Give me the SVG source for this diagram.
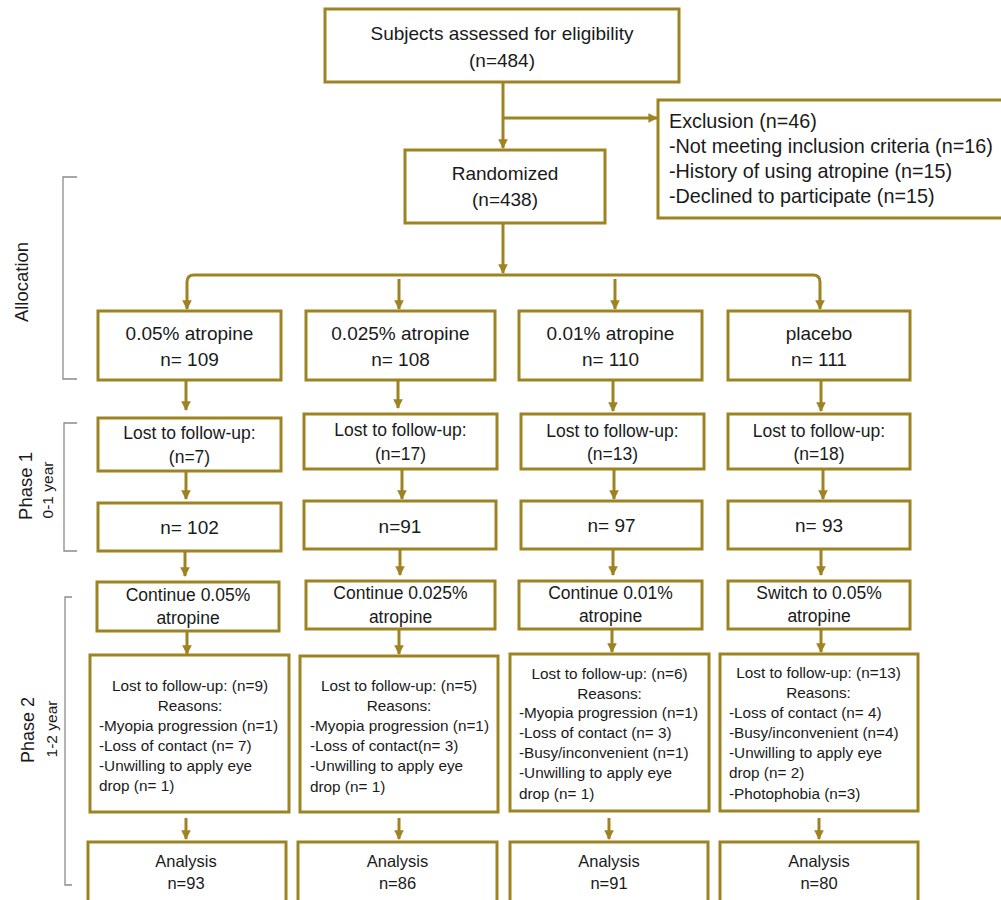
<svg xmlns="http://www.w3.org/2000/svg" width="1001" height="900" viewBox="0 0 1001 900">
<defs>
<style>
.box{fill:#fff;stroke:#9E8323;stroke-width:3}
.ln{fill:none;stroke:#9E8323;stroke-width:3;marker-end:url(#ah)}
.br{fill:none;stroke:#8a8a8a;stroke-width:1.3}
text{font-family:"Liberation Sans",Arial,sans-serif;fill:#1a1a1a;dominant-baseline:central}
.c{text-anchor:middle}
.f19{font-size:19px}
.fx{font-size:19.8px}
.f17{font-size:17.5px}
.f15{font-size:15.3px}
.f16{font-size:16.5px}
</style>
<marker id="ah" viewBox="0 0 10 10" refX="9" refY="5" markerWidth="3.2" markerHeight="3.2" orient="auto" markerUnits="strokeWidth">
<path d="M0,0 L10,5 L0,10 z" fill="#9E8323"/>
</marker>
</defs>
<rect width="1001" height="900" fill="#fff"/>

<g id="brackets">
<path class="br" d="M77,177 H63 V379 H77"/>
<path class="br" d="M77,423 H64 V551 H77"/>
<path class="br" d="M72,597 H65 V885 H72"/>
<text class="c" font-size="18.5" transform="translate(21,282) rotate(-90)">Allocation</text>
<text class="c" font-size="18.5" transform="translate(25,486) rotate(-90)">Phase 1</text>
<text class="c" font-size="15.5" transform="translate(47,490) rotate(-90)">0-1 year</text>
<text class="c" font-size="18" transform="translate(28,730) rotate(-90)">Phase 2</text>
<text class="c" font-size="15.5" transform="translate(51,729) rotate(-90)">1-2 year</text>
</g>

<g id="connectors">
<path class="ln" d="M503,82 V148"/>
<path class="ln" d="M503,118 H657"/>
<path class="ln" d="M503,223 V273"/>
<path class="ln" d="M503,275 H194 Q187,275 187,282 V309"/>
<path class="ln" d="M503,275 H813 Q820,275 820,282 V309"/>
<path class="ln" d="M399,279 V309"/>
<path class="ln" d="M615,279 V309"/>
<path class="ln" d="M186,381 V410"/>
<path class="ln" d="M398,381 V408"/>
<path class="ln" d="M613,381 V411"/>
<path class="ln" d="M821,381 V411"/>
<path class="ln" d="M186,472 V499"/>
<path class="ln" d="M402,470 V499"/>
<path class="ln" d="M614,470 V499"/>
<path class="ln" d="M823,470 V499"/>
<path class="ln" d="M185,552 V576"/>
<path class="ln" d="M400,550 V575"/>
<path class="ln" d="M613,550 V575"/>
<path class="ln" d="M821,550 V575"/>
<path class="ln" d="M187,632 V654"/>
<path class="ln" d="M399,630 V654"/>
<path class="ln" d="M612,630 V652"/>
<path class="ln" d="M821,630 V652"/>
<path class="ln" d="M186,818 V839"/>
<path class="ln" d="M399,818 V839"/>
<path class="ln" d="M609,818 V839"/>
<path class="ln" d="M819,818 V839"/>
</g>

<g id="assessed">
<rect class="box" x="325" y="9" width="354" height="73"/>
<text class="c f19" x="502" y="33">Subjects assessed for eligibility</text>
<text class="c f19" x="502" y="60">(n=484)</text>
</g>
<g id="exclusion">
<rect class="box" x="658" y="100" width="350" height="118"/>
<text class="fx" x="669" y="121">Exclusion (n=46)</text>
<text class="fx" x="669" y="146">-Not meeting inclusion criteria (n=16)</text>
<text class="fx" x="669" y="171">-History of using atropine (n=15)</text>
<text class="fx" x="669" y="196">-Declined to participate (n=15)</text>
</g>
<g id="randomized">
<rect class="box" x="405" y="150" width="200" height="73"/>
<text class="c f19" x="505" y="173">Randomized</text>
<text class="c f19" x="505" y="199">(n=438)</text>
</g>

<g id="alloc1"><rect class="box" x="98" y="311" width="183" height="69"/>
<text class="c f19" x="189.5" y="333">0.05% atropine</text><text class="c f19" x="189.5" y="359">n= 109</text></g>
<g id="alloc2"><rect class="box" x="306" y="311" width="189" height="69"/>
<text class="c f19" x="400.5" y="333">0.025% atropine</text><text class="c f19" x="400.5" y="359">n= 108</text></g>
<g id="alloc3"><rect class="box" x="519" y="311" width="183" height="69"/>
<text class="c f19" x="610.5" y="333">0.01% atropine</text><text class="c f19" x="610.5" y="359">n= 110</text></g>
<g id="alloc4"><rect class="box" x="728" y="311" width="182" height="69"/>
<text class="c f19" x="819" y="333">placebo</text><text class="c f19" x="819" y="359">n= 111</text></g>

<g id="lost1a"><rect class="box" x="98" y="418" width="183" height="53"/>
<text class="c f17" x="189.5" y="433">Lost to follow-up:</text><text class="c f17" x="189.5" y="457">(n=7)</text></g>
<g id="lost2a"><rect class="box" x="304" y="414" width="193" height="55"/>
<text class="c f17" x="400.5" y="430">Lost to follow-up:</text><text class="c f17" x="400.5" y="454">(n=17)</text></g>
<g id="lost3a"><rect class="box" x="521" y="414" width="183" height="55"/>
<text class="c f17" x="612.5" y="431">Lost to follow-up:</text><text class="c f17" x="612.5" y="454">(n=13)</text></g>
<g id="lost4a"><rect class="box" x="728" y="414" width="182" height="55"/>
<text class="c f17" x="819" y="431">Lost to follow-up:</text><text class="c f17" x="819" y="454">(n=18)</text></g>

<g id="n1"><rect class="box" x="98" y="503" width="183" height="48"/>
<text class="c f19" x="189.5" y="527">n= 102</text></g>
<g id="n2"><rect class="box" x="304" y="501" width="192" height="48"/>
<text class="c f19" x="400" y="526">n=91</text></g>
<g id="n3"><rect class="box" x="521" y="501" width="181" height="48"/>
<text class="c f19" x="611.5" y="525">n= 97</text></g>
<g id="n4"><rect class="box" x="728" y="501" width="182" height="48"/>
<text class="c f19" x="819" y="525">n= 93</text></g>

<g id="cont1"><rect class="box" x="97" y="582" width="182" height="49"/>
<text class="c f17" x="188" y="595">Continue 0.05%</text><text class="c f17" x="188" y="618">atropine</text></g>
<g id="cont2"><rect class="box" x="306" y="581" width="189" height="48"/>
<text class="c f17" x="400.5" y="593">Continue 0.025%</text><text class="c f17" x="400.5" y="617">atropine</text></g>
<g id="cont3"><rect class="box" x="519" y="581" width="183" height="48"/>
<text class="c f17" x="610.5" y="593">Continue 0.01%</text><text class="c f17" x="610.5" y="616">atropine</text></g>
<g id="cont4"><rect class="box" x="728" y="581" width="182" height="48"/>
<text class="c f17" x="819" y="593">Switch to 0.05%</text><text class="c f17" x="819" y="616">atropine</text></g>

<g id="lost1b"><rect class="box" x="90" y="655" width="199" height="157"/>
<text class="c f15" x="190" y="685">Lost to follow-up: (n=9)</text>
<text class="c f15" x="190" y="705">Reasons:</text>
<text class="f15" x="99" y="725">-Myopia progression (n=1)</text>
<text class="f15" x="99" y="745">-Loss of contact (n= 7)</text>
<text class="f15" x="99" y="765">-Unwilling to apply eye</text>
<text class="f15" x="99" y="785">drop (n= 1)</text></g>
<g id="lost2b"><rect class="box" x="300" y="656" width="198" height="156"/>
<text class="c f15" x="399" y="685">Lost to follow-up: (n=5)</text>
<text class="c f15" x="399" y="705">Reasons:</text>
<text class="f15" x="310" y="725">-Myopia progression (n=1)</text>
<text class="f15" x="310" y="745">-Loss of contact(n= 3)</text>
<text class="f15" x="310" y="765">-Unwilling to apply eye</text>
<text class="f15" x="310" y="786">drop (n= 1)</text></g>
<g id="lost3b"><rect class="box" x="510" y="654" width="199" height="157"/>
<text class="c f15" x="609.5" y="673">Lost to follow-up: (n=6)</text>
<text class="c f15" x="609.5" y="693">Reasons:</text>
<text class="f15" x="519" y="712">-Myopia progression (n=1)</text>
<text class="f15" x="519" y="732">-Loss of contact (n= 3)</text>
<text class="f15" x="519" y="752">-Busy/inconvenient (n=1)</text>
<text class="f15" x="519" y="772">-Unwilling to apply eye</text>
<text class="f15" x="519" y="793">drop (n= 1)</text></g>
<g id="lost4b"><rect class="box" x="720" y="654" width="198" height="157"/>
<text class="c f15" x="818.5" y="672">Lost to follow-up: (n=13)</text>
<text class="c f15" x="818.5" y="692">Reasons:</text>
<text class="f15" x="729" y="712">-Loss of contact (n= 4)</text>
<text class="f15" x="729" y="732">-Busy/inconvenient (n=4)</text>
<text class="f15" x="729" y="752">-Unwilling to apply eye</text>
<text class="f15" x="729" y="772">drop (n= 2)</text>
<text class="f15" x="729" y="793">-Photophobia (n=3)</text></g>

<g id="analysis1"><rect class="box" x="88" y="842" width="198" height="70"/>
<text class="c f16" x="186" y="861">Analysis</text><text class="c f16" x="186" y="883">n=93</text></g>
<g id="analysis2"><rect class="box" x="298" y="842" width="199" height="70"/>
<text class="c f16" x="397.5" y="861">Analysis</text><text class="c f16" x="397.5" y="883">n=86</text></g>
<g id="analysis3"><rect class="box" x="510" y="842" width="198" height="70"/>
<text class="c f16" x="609" y="861">Analysis</text><text class="c f16" x="609" y="883">n=91</text></g>
<g id="analysis4"><rect class="box" x="720" y="842" width="198" height="70"/>
<text class="c f16" x="819" y="861">Analysis</text><text class="c f16" x="819" y="883">n=80</text></g>
</svg>
